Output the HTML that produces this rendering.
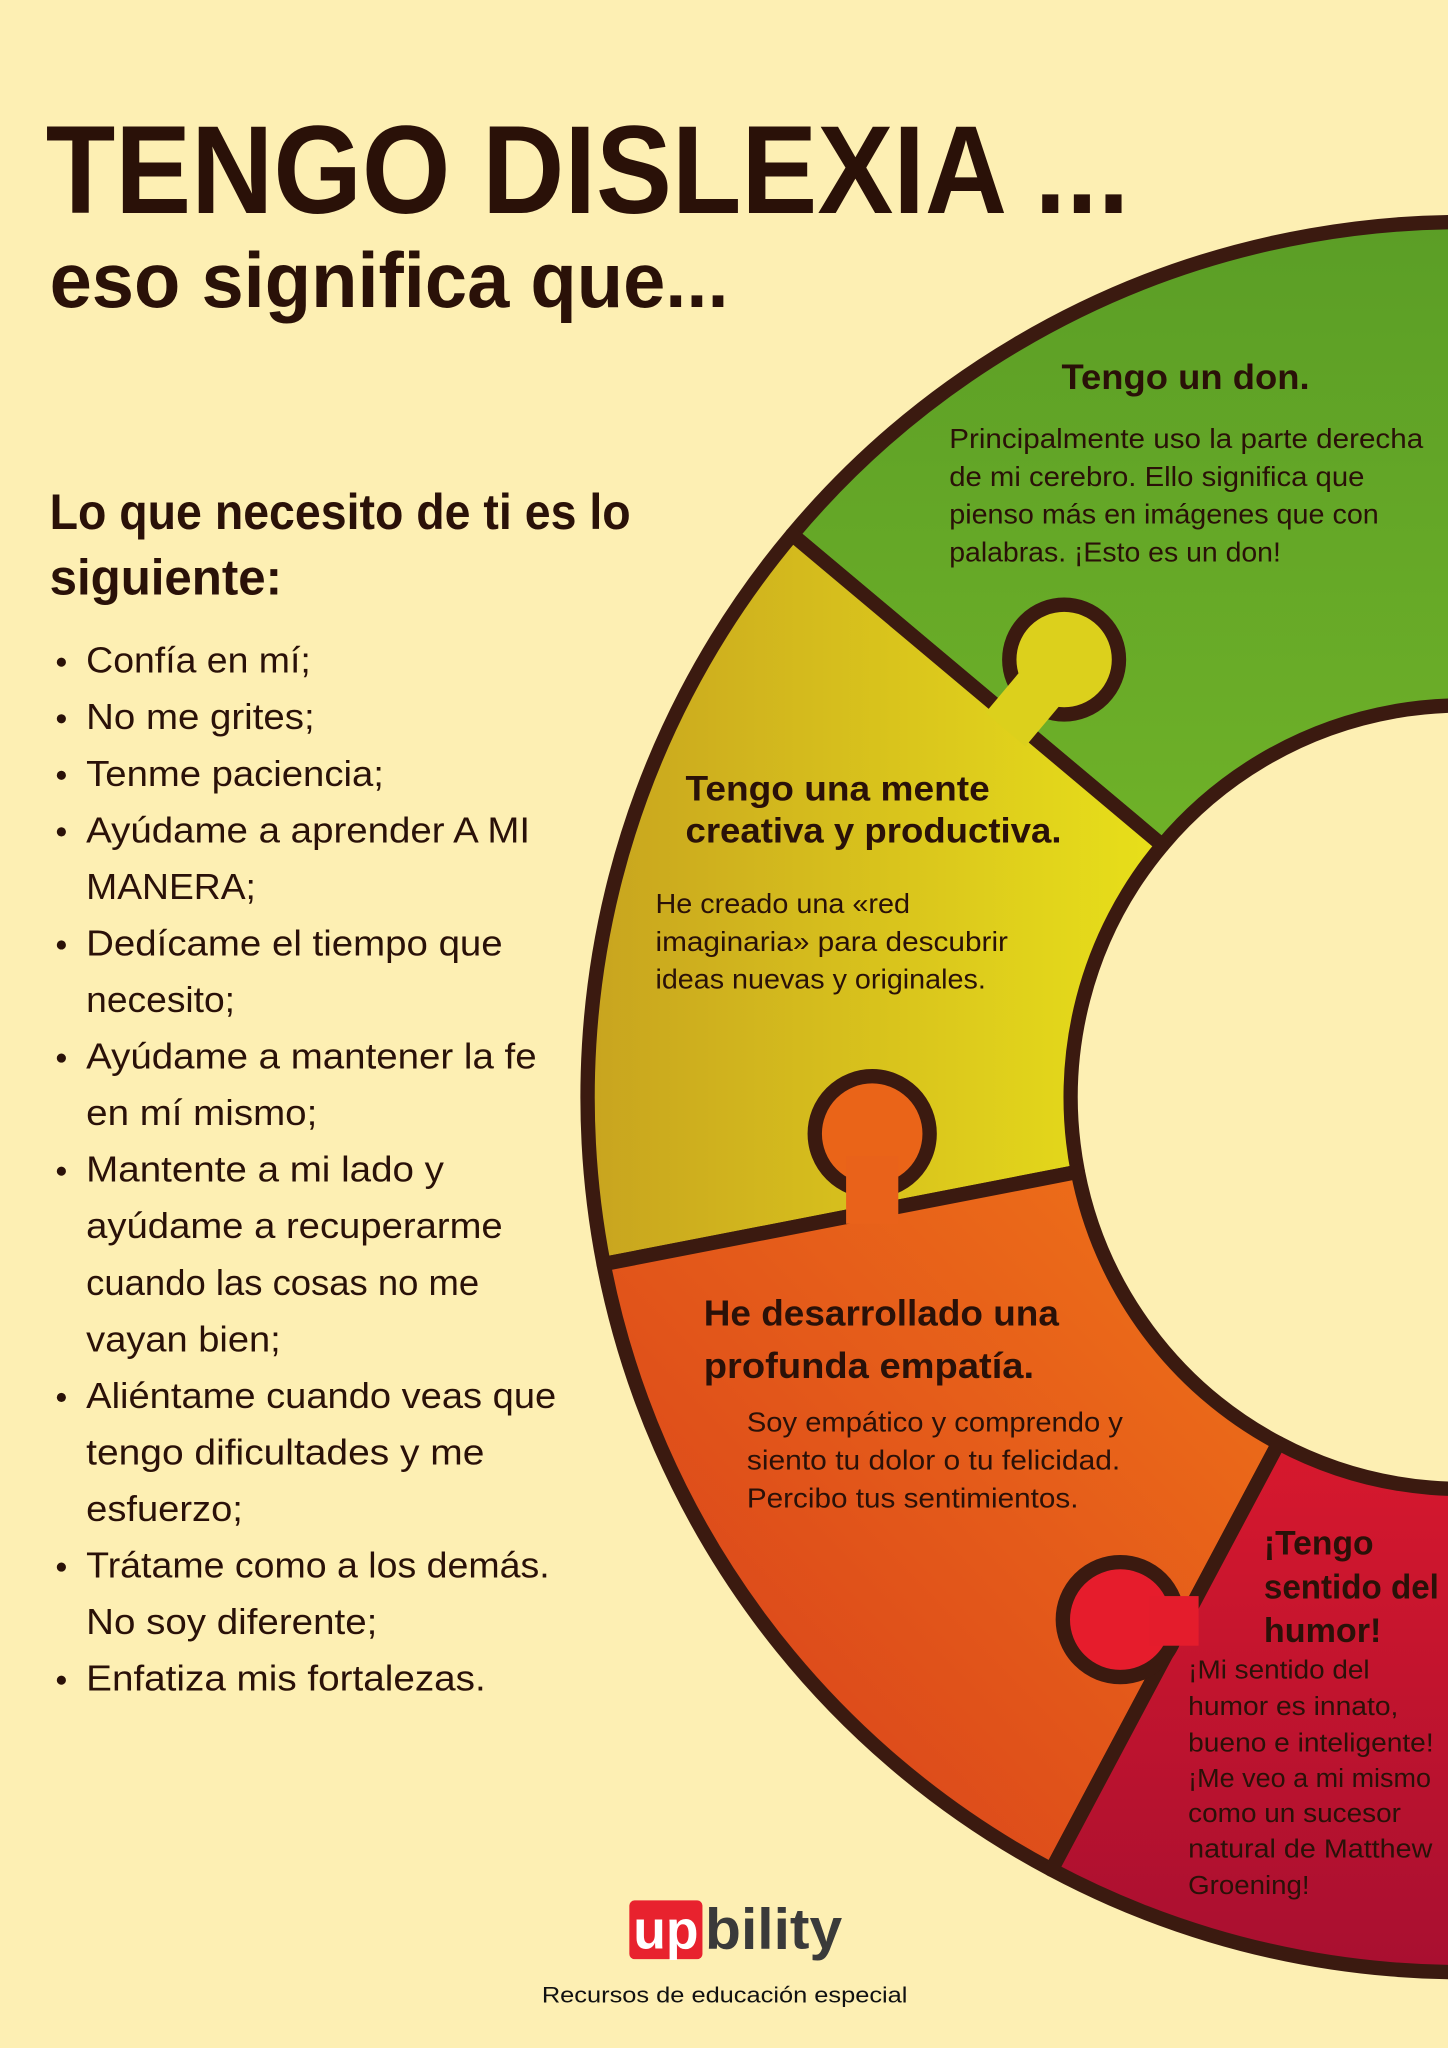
<!DOCTYPE html>
<html><head><meta charset="utf-8"><style>
html,body{margin:0;padding:0;background:#fdefb3;}
svg{display:block;}
text{font-family:"Liberation Sans",sans-serif;fill:#2a1108;}
.b{font-weight:bold;}
</style></head><body>
<svg width="1448" height="2048" viewBox="0 0 1109 1568" preserveAspectRatio="none" xmlns="http://www.w3.org/2000/svg">
<defs>
<linearGradient id="gG" x1="0" y1="0" x2="0" y2="1"><stop offset="0" stop-color="#5b9e26"/><stop offset="1" stop-color="#80c22a"/></linearGradient>
<linearGradient id="gY" x1="0" y1="0" x2="1" y2="0"><stop offset="0" stop-color="#c8a41f"/><stop offset="1" stop-color="#e8e01a"/></linearGradient>
<linearGradient id="gO" x1="1" y1="0" x2="0" y2="1"><stop offset="0" stop-color="#f07418"/><stop offset="1" stop-color="#d63c1c"/></linearGradient>
<linearGradient id="gR" x1="0" y1="0" x2="0" y2="1"><stop offset="0" stop-color="#ea1c2c"/><stop offset="1" stop-color="#a80f30"/></linearGradient>
</defs>
<rect width="1109" height="1568" fill="#fdefb3"/>
<g stroke="#3b1a10" stroke-width="11" stroke-linejoin="round">
<path d="M 606.8 409.3 A 670 670 0 0 1 1749.6 1069.1 L 1401.9 942.6 A 300 300 0 0 0 890.2 647.2 Z" fill="url(#gG)"/>
<path d="M 462.3 967.8 A 670 670 0 0 1 606.8 409.3 L 890.2 647.2 A 300 300 0 0 0 825.5 897.2 Z" fill="url(#gY)"/>
<path d="M 805.4 1431.5 A 670 670 0 0 1 462.3 967.8 L 825.5 897.2 A 300 300 0 0 0 979.2 1104.9 Z" fill="url(#gO)"/>
<path d="M 1749.6 1069.1 A 670 670 0 0 1 805.4 1431.5 L 979.2 1104.9 A 300 300 0 0 0 1401.9 942.6 Z" fill="url(#gR)"/>
<circle cx="815" cy="505" r="42" fill="#dcd01c"/>
<circle cx="668" cy="868" r="44" fill="#ea6418"/>
<circle cx="858" cy="1240" r="44" fill="#e61c2c"/>
</g>
<polygon points="830.3,517.9 799.7,492.1 754.7,545.7 785.3,571.5" fill="#dcd01c"/>
<rect x="648" y="885" width="40" height="52" fill="#e9621a"/>
<rect x="880" y="1222" width="38" height="38" fill="#e41c2c"/>

<text class="b" x="35" y="163" font-size="96" textLength="830" lengthAdjust="spacingAndGlyphs">TENGO DISLEXIA ...</text>
<text class="b" x="38" y="235" font-size="60" textLength="520" lengthAdjust="spacingAndGlyphs">eso significa que...</text>
<text class="b" x="38" y="405" font-size="38" textLength="445" lengthAdjust="spacingAndGlyphs">Lo que necesito de ti es lo</text>
<text class="b" x="38" y="455" font-size="38" textLength="178" lengthAdjust="spacingAndGlyphs">siguiente:</text>

<g font-size="28">
<text x="66" y="515" textLength="172" lengthAdjust="spacingAndGlyphs">Confía en mí;</text>
<text x="66" y="558.3" textLength="175" lengthAdjust="spacingAndGlyphs">No me grites;</text>
<text x="66" y="601.6" textLength="228" lengthAdjust="spacingAndGlyphs">Tenme paciencia;</text>
<text x="66" y="644.9" textLength="340" lengthAdjust="spacingAndGlyphs">Ayúdame a aprender A MI</text>
<text x="66" y="688.2" textLength="130" lengthAdjust="spacingAndGlyphs">MANERA;</text>
<text x="66" y="731.5" textLength="319" lengthAdjust="spacingAndGlyphs">Dedícame el tiempo que</text>
<text x="66" y="774.8" textLength="114" lengthAdjust="spacingAndGlyphs">necesito;</text>
<text x="66" y="818.1" textLength="345" lengthAdjust="spacingAndGlyphs">Ayúdame a mantener la fe</text>
<text x="66" y="861.4" textLength="177" lengthAdjust="spacingAndGlyphs">en mí mismo;</text>
<text x="66" y="904.7" textLength="274" lengthAdjust="spacingAndGlyphs">Mantente a mi lado y</text>
<text x="66" y="948" textLength="319" lengthAdjust="spacingAndGlyphs">ayúdame a recuperarme</text>
<text x="66" y="991.3" textLength="301" lengthAdjust="spacingAndGlyphs">cuando las cosas no me</text>
<text x="66" y="1034.6" textLength="149" lengthAdjust="spacingAndGlyphs">vayan bien;</text>
<text x="66" y="1077.9" textLength="360" lengthAdjust="spacingAndGlyphs">Aliéntame cuando veas que</text>
<text x="66" y="1121.2" textLength="305" lengthAdjust="spacingAndGlyphs">tengo dificultades y me</text>
<text x="66" y="1164.5" textLength="120" lengthAdjust="spacingAndGlyphs">esfuerzo;</text>
<text x="66" y="1207.8" textLength="355" lengthAdjust="spacingAndGlyphs">Trátame como a los demás.</text>
<text x="66" y="1251.1" textLength="223" lengthAdjust="spacingAndGlyphs">No soy diferente;</text>
<text x="66" y="1294.4" textLength="306" lengthAdjust="spacingAndGlyphs">Enfatiza mis fortalezas.</text>
</g>
<g fill="#2a1108">
<circle cx="47" cy="507" r="3.5"/><circle cx="47" cy="550.3" r="3.5"/><circle cx="47" cy="593.6" r="3.5"/><circle cx="47" cy="636.9" r="3.5"/>
<circle cx="47" cy="723.5" r="3.5"/><circle cx="47" cy="810.1" r="3.5"/><circle cx="47" cy="896.7" r="3.5"/><circle cx="47" cy="1069.9" r="3.5"/>
<circle cx="47" cy="1199.8" r="3.5"/><circle cx="47" cy="1286.4" r="3.5"/>
</g>

<text class="b" x="813" y="298" font-size="27" textLength="190" lengthAdjust="spacingAndGlyphs">Tengo un don.</text>
<g font-size="21">
<text x="727" y="343" textLength="363" lengthAdjust="spacingAndGlyphs">Principalmente uso la parte derecha</text>
<text x="727" y="372" textLength="318" lengthAdjust="spacingAndGlyphs">de mi cerebro. Ello significa que</text>
<text x="727" y="401" textLength="329" lengthAdjust="spacingAndGlyphs">pienso más en imágenes que con</text>
<text x="727" y="430" textLength="254" lengthAdjust="spacingAndGlyphs">palabras. ¡Esto es un don!</text>
</g>

<text class="b" x="525" y="613" font-size="27" textLength="233" lengthAdjust="spacingAndGlyphs">Tengo una mente</text>
<text class="b" x="525" y="645" font-size="27" textLength="288" lengthAdjust="spacingAndGlyphs">creativa y productiva.</text>
<g font-size="21">
<text x="502" y="699" textLength="195" lengthAdjust="spacingAndGlyphs">He creado una «red</text>
<text x="502" y="728" textLength="270" lengthAdjust="spacingAndGlyphs">imaginaria» para descubrir</text>
<text x="502" y="757" textLength="253" lengthAdjust="spacingAndGlyphs">ideas nuevas y originales.</text>
</g>

<text class="b" x="539" y="1015" font-size="28" textLength="272" lengthAdjust="spacingAndGlyphs">He desarrollado una</text>
<text class="b" x="539" y="1055" font-size="28" textLength="253" lengthAdjust="spacingAndGlyphs">profunda empatía.</text>
<g font-size="21">
<text x="572" y="1096" textLength="288" lengthAdjust="spacingAndGlyphs">Soy empático y comprendo y</text>
<text x="572" y="1125" textLength="286" lengthAdjust="spacingAndGlyphs">siento tu dolor o tu felicidad.</text>
<text x="572" y="1154" textLength="254" lengthAdjust="spacingAndGlyphs">Percibo tus sentimientos.</text>
</g>

<g font-size="26">
<text class="b" x="968" y="1190" textLength="84" lengthAdjust="spacingAndGlyphs">¡Tengo</text>
<text class="b" x="968" y="1224" textLength="134" lengthAdjust="spacingAndGlyphs">sentido del</text>
<text class="b" x="968" y="1257" textLength="90" lengthAdjust="spacingAndGlyphs">humor!</text>
</g>
<g font-size="20">
<text x="910" y="1285" textLength="139" lengthAdjust="spacingAndGlyphs">¡Mi sentido del</text>
<text x="910" y="1313" textLength="161" lengthAdjust="spacingAndGlyphs">humor es innato,</text>
<text x="910" y="1341" textLength="188" lengthAdjust="spacingAndGlyphs">bueno e inteligente!</text>
<text x="910" y="1368" textLength="186" lengthAdjust="spacingAndGlyphs">¡Me veo a mi mismo</text>
<text x="910" y="1395" textLength="163" lengthAdjust="spacingAndGlyphs">como un sucesor</text>
<text x="910" y="1422" textLength="187" lengthAdjust="spacingAndGlyphs">natural de Matthew</text>
<text x="910" y="1450" textLength="93" lengthAdjust="spacingAndGlyphs">Groening!</text>
</g>

<rect x="482" y="1455" width="56" height="45" rx="4" fill="#e8222e"/>
<text class="b" x="485" y="1492" font-size="42" textLength="50" lengthAdjust="spacingAndGlyphs" style="fill:#fff">up</text>
<text class="b" x="540" y="1492" font-size="44" textLength="105" lengthAdjust="spacingAndGlyphs" style="fill:#3a3a3a">bility</text>
<text x="415" y="1533" font-size="17" textLength="280" lengthAdjust="spacingAndGlyphs" style="fill:#111">Recursos de educación especial</text>
</svg>
</body></html>
